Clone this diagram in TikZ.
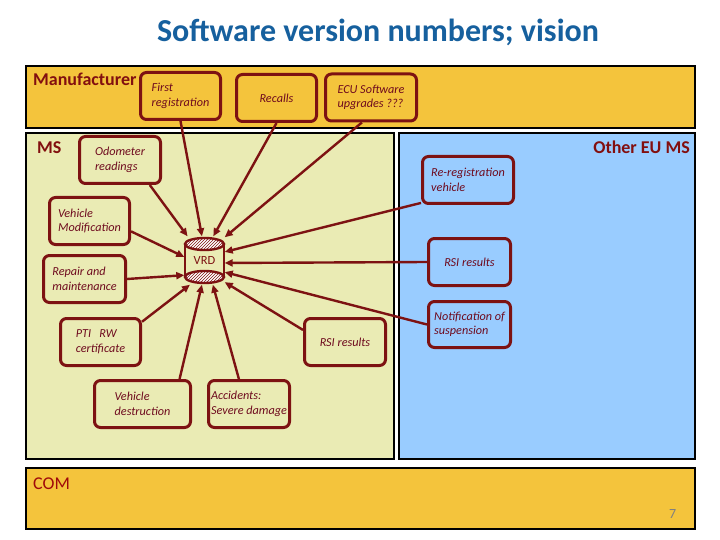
\documentclass[tikz,border=0pt]{standalone}
\usepackage{fontspec}
\setmainfont{Carlito}
\usetikzlibrary{arrows.meta,patterns}
\definecolor{mfill}{RGB}{244,196,60}
\definecolor{msfill}{RGB}{234,235,180}
\definecolor{eufill}{RGB}{153,204,255}
\definecolor{boxred}{RGB}{125,18,18}
\definecolor{txtred}{RGB}{110,10,30}
\definecolor{lblred}{RGB}{130,15,15}
\definecolor{comred}{RGB}{160,10,10}
\definecolor{titleblue}{RGB}{22,96,158}
\tikzset{
  area/.style={draw=black, line width=1.2pt},
  lbl/.style={font=\fontsize{18}{20}\selectfont\bfseries, text=lblred, inner sep=0pt},
  infobox/.style={draw=boxred, line width=3pt, rounded corners=6pt, align=left,
     font=\fontsize{12.2}{14.5}\selectfont\itshape, text=txtred, inner sep=0pt,
     minimum height=47pt},
  arr/.style={draw=boxred, line width=2.4pt, -{Triangle[length=8pt,width=7pt]}},
  vrdline/.style={draw=boxred, line width=2.4pt}
}
\begin{document}
\begin{tikzpicture}[x=1pt,y=-1pt]
\useasboundingbox[fill=white] (0,0) rectangle (720,540);
% title
\node[anchor=base, inner sep=0pt, font=\fontsize{32}{36}\selectfont\bfseries, text=titleblue] (title) at (378,42) {Software version numbers; vision};
% areas
\draw[area, fill=mfill] (26,66) rectangle (695,128);
\draw[area, fill=msfill] (26,133) rectangle (394,459);
\draw[area, fill=eufill] (399,133) rectangle (695,459);
\draw[area, fill=mfill] (26,468) rectangle (695,529);
% area labels
\node[lbl, anchor=base west] (manlbl) at (33,86) {Manufacturer};
\node[lbl, anchor=base west] (mslbl) at (37,154) {MS};
\node[lbl, anchor=base east] (eulbl) at (690,154) {Other EU MS};
\node[lbl, anchor=base west, text=comred, font=\fontsize{18}{20}\selectfont] (comlbl) at (33,489) {COM};
\node[anchor=base west, inner sep=0pt, text=gray, font=\fontsize{14}{16}\selectfont] (pagenum) at (669,518) {7};
% boxes
\node[infobox, minimum width=80pt] (firstreg) at (180.5,96) {First\\registration};
\node[infobox, minimum width=80pt] (recalls) at (276.5,98) {Recalls};
\node[infobox, minimum width=91pt] (ecu) at (371,97.5) {ECU Software\\upgrades ???};
\node[infobox, minimum width=81pt] (odom) at (120,160) {Odometer\\readings};
\node[infobox, minimum width=80pt] (vmod) at (89.5,221) {Vehicle\\Modification};
\node[infobox, minimum width=82pt] (repair) at (84.5,279) {Repair and\\maintenance};
\node[infobox, minimum width=80pt] (pti) at (100.5,342) {PTI\ \ \ RW\\certificate};
\node[infobox, minimum width=96pt] (destr) at (142.5,404) {Vehicle\\destruction};
\node[infobox, minimum width=81pt] (accid) at (249,404) {Accidents:\\Severe damage};
\node[infobox, minimum width=81pt] (rsims) at (345,342) {RSI results};
\node[infobox, minimum width=91pt] (rereg) at (468,180) {Re-registration\\vehicle};
\node[infobox, minimum width=82pt] (rsieu) at (469.5,262) {RSI results};
\node[infobox, minimum width=82pt, minimum height=46pt] (notif) at (469.5,324.5) {Notification of\\suspension};
% VRD cylinder
\draw[vrdline] (185,244) -- (185,277);
\draw[vrdline] (224,244) -- (224,277);
\draw[vrdline, fill=white] (204.5,244) ellipse [x radius=19.5pt, y radius=6pt];
\fill[pattern=north east lines, pattern color=boxred] (204.5,244) ellipse [x radius=19.5pt, y radius=6pt];
\draw[vrdline, fill=white] (204.5,277) ellipse [x radius=19.5pt, y radius=6pt];
\fill[pattern=north east lines, pattern color=boxred] (204.5,277) ellipse [x radius=19.5pt, y radius=6pt];
\node[minimum width=40pt, minimum height=48pt, inner sep=0pt, text=boxred, font=\fontsize{12.5}{14}\selectfont] (vrd) at (204.5,260.5) {VRD};
% arrows
\draw[arr] (firstreg.south) -- (vrd.96);
\draw[arr] (recalls.south) -- (vrd.70);
\draw[arr] (ecu.250) -- (vrd.49);
\draw[arr] (odom.320) -- (vrd.125);
\draw[arr] (vmod.346) -- (vrd.170);
\draw[arr] (repair.east) -- (vrd.216);
\draw[arr] (pti.26) -- (vrd.239);
\draw[arr] (destr.34) -- (vrd.264);
\draw[arr] (accid.112) -- (vrd.289);
\draw[arr] (rsims.164) -- (vrd.313);
\draw[arr] (notif.west) -- (vrd.330);
\draw[arr] (rsieu.west) -- (vrd.353);
\draw[arr] (rereg.206) -- (vrd.23);
\end{tikzpicture}
\end{document}
